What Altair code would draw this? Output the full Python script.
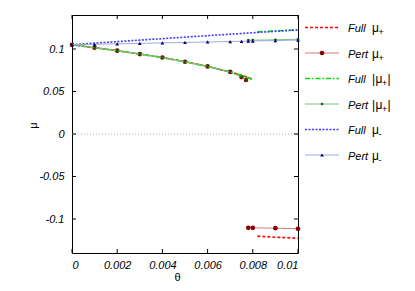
import altair as alt
import pandas as pd

# ---------------- data ----------------
theta_full_up = [0.0, 0.001, 0.002, 0.003, 0.004, 0.005, 0.006, 0.007, 0.0075, 0.0078, 0.008]
mu_full_up = [0.105, 0.1015, 0.098, 0.094, 0.090, 0.085, 0.0795, 0.073, 0.069, 0.0665, 0.064]

theta_full_low = [0.0082, 0.009, 0.01]
mu_full_plus_low = [-0.1202, -0.1214, -0.1226]
mu_full_abs_low = [0.1202, 0.1214, 0.1226]

theta_pert_up = [0.0, 0.001, 0.002, 0.003, 0.004, 0.005, 0.006, 0.007, 0.0075, 0.0077]
mu_pert_up = [0.105, 0.1015, 0.098, 0.094, 0.090, 0.085, 0.0795, 0.073, 0.067, 0.0635]

theta_pert_low = [0.0078, 0.008, 0.009, 0.01]
mu_pert_plus_low = [-0.1104, -0.1104, -0.1108, -0.1115]
mu_pert_abs_low = [0.1104, 0.1104, 0.1108, 0.1115]

theta_minus_full = [0.0, 0.002, 0.004, 0.006, 0.008, 0.01]
mu_minus_full = [0.105, 0.1087, 0.1122, 0.1157, 0.1191, 0.1224]

theta_minus_pert = [0.0, 0.001, 0.002, 0.003, 0.004, 0.005, 0.006, 0.007, 0.0075, 0.0078, 0.008, 0.009, 0.01]
mu_minus_pert = [0.105, 0.1055, 0.1061, 0.1066, 0.1072, 0.1077, 0.1083, 0.1088, 0.1091, 0.1093, 0.1094, 0.1099, 0.1105]

x_ticks = [0.0, 0.002, 0.004, 0.006, 0.008, 0.01]
y_ticks = [-0.1, -0.05, 0.0, 0.05, 0.1]

legend_kind = ["Full", "Pert", "Full", "Pert", "Full", "Pert"]
legend_sub = ["+", "+", "+", "+", "-", "-"]
legend_abs = [False, False, True, True, False, False]

# ---------------- styling ----------------
W, H = 226, 238
FONT = "Liberation Sans"
FS = 11

xs = alt.Scale(domain=[0, 0.01], nice=False, zero=False)
ys = alt.Scale(domain=[-0.14, 0.14], nice=False, zero=False)

xaxis = alt.Axis(values=x_ticks, format=".3~f", labelExpr="replace(datum.label, '\u2212', '-')",
                 grid=False, domain=False, ticks=False, labelPadding=6,
                 labelFont=FONT, labelFontSize=FS, labelFontStyle="italic", labelColor="black",
                 title="θ", titleFont=FONT, titleFontSize=FS, titleFontWeight="normal", titleColor="black",
                 titleX=105, titleY=24, titleBaseline="middle", titleAlign="center")
yaxis = alt.Axis(values=y_ticks, format=".2~f", labelExpr="replace(datum.label, '\u2212', '-')",
                 grid=False, domain=False, ticks=False, labelPadding=8,
                 labelFont=FONT, labelFontSize=FS, labelFontStyle="italic", labelColor="black",
                 title="μ", titleFont=FONT, titleFontSize=FS, titleFontWeight="normal", titleColor="black",
                 titleX=-39, titleY=110, titleBaseline="middle", titleAlign="center", titleAngle=-90)

X = alt.X("theta:Q", scale=xs, axis=xaxis)
Y = alt.Y("mu:Q", scale=ys, axis=yaxis)

RED_FULL = dict(color="#ff0000", strokeDash=[3, 2], strokeWidth=1.6)
GREEN_FULL = dict(color="#00dd00", strokeDash=[5, 2, 1.5, 2], strokeWidth=1.6)
BLUE_FULL = dict(color="#3c3cff", strokeDash=[2, 1.5], strokeWidth=1.6)
RED_PERT = dict(color="#cc7a7a", strokeWidth=1)
GREEN_PERT = dict(color="#7fc07f", strokeWidth=1)
BLUE_PERT = dict(color="#a3aadc", strokeWidth=1)
RED_PT = dict(shape="circle", filled=True, color="#8b0000", size=22, opacity=1)
GREEN_PT = dict(shape="circle", filled=True, color="#006400", size=7, opacity=1)
BLUE_PT = dict(shape="triangle-up", filled=True, color="#00007a", size=14, opacity=1)


def seg_df(parts):
    rows = []
    for s, (th, mu) in enumerate(parts):
        for t, m in zip(th, mu):
            rows.append({"theta": t, "mu": m, "seg": s})
    return pd.DataFrame(rows)


def line(df, style):
    return alt.Chart(df).mark_line(**style).encode(x=X, y=Y, detail="seg:N")


def pts(df, style):
    return alt.Chart(df).mark_point(**style).encode(x=X, y=Y)


full_plus = seg_df([(theta_full_up, mu_full_up), (theta_full_low, mu_full_plus_low)])
pert_plus = seg_df([(theta_pert_up, mu_pert_up), (theta_pert_low, mu_pert_plus_low)])
full_abs = seg_df([(theta_full_up, mu_full_up), (theta_full_low, mu_full_abs_low)])
pert_abs = seg_df([(theta_pert_up, mu_pert_up), (theta_pert_low, mu_pert_abs_low)])
full_minus = seg_df([(theta_minus_full, mu_minus_full)])
pert_minus = seg_df([(theta_minus_pert, mu_minus_pert)])

zero = alt.Chart(pd.DataFrame({"mu": [0.0]})).mark_rule(
    color="#b0b0b0", strokeDash=[1, 2], strokeWidth=1).encode(y=Y)

xt = pd.DataFrame({"theta": x_ticks})
yt = pd.DataFrame({"mu": y_ticks})
tick_style = dict(color="black", strokeWidth=1)
ticks = [
    alt.Chart(xt).mark_rule(**tick_style).encode(x=X, y=alt.value(H), y2=alt.value(H - 4)),
    alt.Chart(xt).mark_rule(**tick_style).encode(x=X, y=alt.value(0), y2=alt.value(4)),
    alt.Chart(yt).mark_rule(**tick_style).encode(y=Y, x=alt.value(0), x2=alt.value(4)),
    alt.Chart(yt).mark_rule(**tick_style).encode(y=Y, x=alt.value(W), x2=alt.value(W - 4)),
]

layers = [zero] + ticks + [
    line(full_plus, RED_FULL),
    line(pert_plus, RED_PERT), pts(pert_plus, RED_PT),
    line(full_abs, GREEN_FULL),
    line(pert_abs, GREEN_PERT), pts(pert_abs, GREEN_PT),
    line(full_minus, BLUE_FULL),
    line(pert_minus, BLUE_PERT), pts(pert_minus, BLUE_PT),
]

# ---------------- legend (outside the plot, on the right) ----------------
one = pd.DataFrame({"a": [0]})
line_styles = [RED_FULL, RED_PERT, GREEN_FULL, GREEN_PERT, BLUE_FULL, BLUE_PERT]
pt_styles = [None, RED_PT, None, GREEN_PT, None, BLUE_PT]
MX = 300
for i in range(6):
    yi = 12.5 + 25.5 * i
    layers.append(alt.Chart(one).mark_rule(**line_styles[i]).encode(
        x=alt.value(233), x2=alt.value(267), y=alt.value(yi)))
    if pt_styles[i] is not None:
        layers.append(alt.Chart(one).mark_point(**pt_styles[i]).encode(
            x=alt.value(250), y=alt.value(yi)))
    txt = dict(font=FONT, fontSize=12, color="black", align="left", baseline="alphabetic")
    base = yi + 4.5
    layers.append(alt.Chart(one).mark_text(fontStyle="italic", **{**txt, "fontSize": 11}).encode(
        x=alt.value(276), y=alt.value(base), text=alt.value(legend_kind[i])))
    if legend_abs[i]:
        parts = [("|", MX, base, 12), ("μ", MX + 3.5, base, 12), (legend_sub[i], MX + 10, base + 3, 9),
                 ("|", MX + 15.5, base, 12)]
    else:
        parts = [("μ", MX, base, 12), (legend_sub[i], MX + 6.5, base + 3, 9)]
    for s, px, py, fs in parts:
        t2 = dict(txt)
        t2["fontSize"] = fs
        layers.append(alt.Chart(one).mark_text(**t2).encode(
            x=alt.value(px), y=alt.value(py), text=alt.value(s)))

chart = alt.layer(*layers).properties(
    width=W, height=H,
    padding={"left": 64, "top": 7, "right": 100, "bottom": 30},
    autosize=alt.AutoSizeParams(type="none"),
).configure_view(stroke="black", strokeWidth=1)

chart.save("out.html", embed_options={"renderer": "svg", "actions": False})
